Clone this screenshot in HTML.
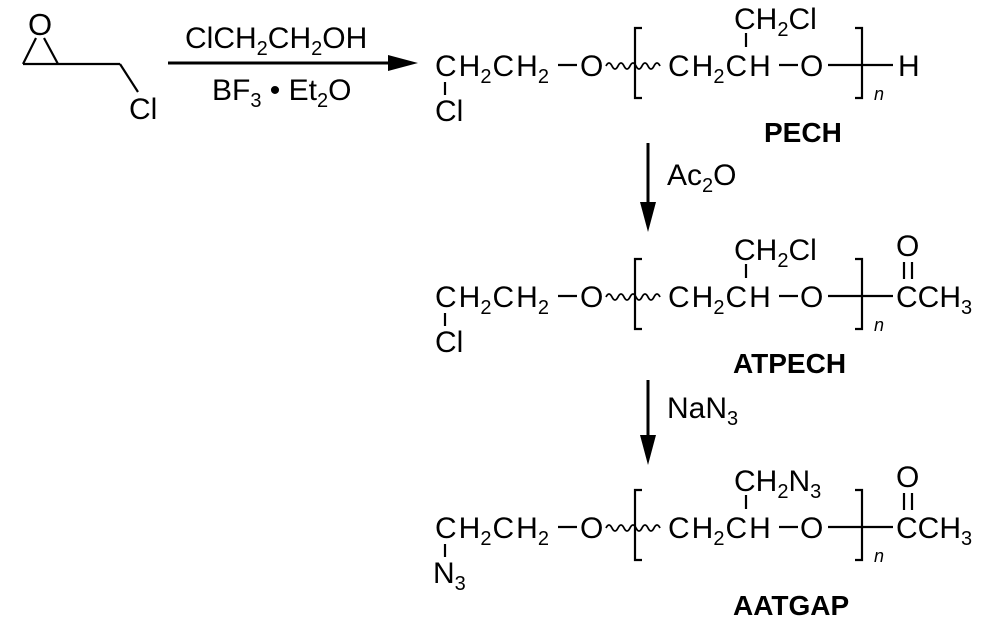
<!DOCTYPE html>
<html><head><meta charset="utf-8"><style>
html,body{margin:0;padding:0;background:#fff;}
svg{display:block;font-family:"Liberation Sans",Arial,sans-serif;}
</style></head><body>
<svg width="1000" height="634" viewBox="0 0 1000 634" xmlns="http://www.w3.org/2000/svg">
<defs>
<g id="core" stroke="#000" stroke-width="2.2" fill="none">
  <text x="435" y="76" font-size="30" fill="#000" stroke="none">C<tspan dx="2">H</tspan><tspan font-size="20" dy="7">2</tspan><tspan dy="-7" dx="1">C</tspan><tspan dx="2">H</tspan><tspan font-size="20" dy="7">2</tspan></text>
  <line x1="558" y1="65" x2="577" y2="65"/>
  <text x="580" y="76" font-size="30" fill="#000" stroke="none">O</text>
  <path d="M606 66 q3 -6 6 0 t6 0 t6 0 t6 0 t6 0 t6 0 t6 0 t6 0 t6 0" stroke-width="1.8"/>
  <path d="M642 28 H635 V98 H642"/>
  <text x="668" y="76" font-size="30" fill="#000" stroke="none">C<tspan dx="2">H</tspan><tspan font-size="20" dy="7">2</tspan><tspan dy="-7" dx="1">C</tspan><tspan dx="2">H</tspan></text>
  <line x1="779" y1="65" x2="798" y2="65"/>
  <text x="800" y="76" font-size="30" fill="#000" stroke="none">O</text>
  <line x1="828" y1="65" x2="893" y2="65"/>
  <path d="M855 28 H862 V98 H855"/>
  <text x="874" y="100" font-size="18" font-style="italic" fill="#000" stroke="none">n</text>
  <line x1="746" y1="33" x2="746" y2="47"/>
  <line x1="445" y1="82" x2="445" y2="95"/>
</g>
</defs>

<g stroke="#000" stroke-width="2.2" fill="none">
  <line x1="36" y1="38" x2="23" y2="64"/>
  <line x1="44" y1="38" x2="58" y2="64"/>
  <line x1="23" y1="64" x2="120" y2="64"/>
  <line x1="120" y1="64" x2="138" y2="92"/>
  <line x1="168" y1="63" x2="390" y2="63" stroke-width="3"/>
  <line x1="648" y1="143" x2="648" y2="205" stroke-width="3"/>
  <line x1="648" y1="380" x2="648" y2="438" stroke-width="3"/>
</g>
<polygon points="388,55 418,63 388,71" fill="#000"/>
<polygon points="640,202 656,202 648,232" fill="#000"/>
<polygon points="640,435 656,435 648,465" fill="#000"/>
<text x="28" y="35" font-size="31" fill="#000">O</text>
<text x="129" y="119" font-size="30" fill="#000">Cl</text>
<text x="185" y="48" font-size="30" fill="#000">ClCH<tspan font-size="20" dy="7">2</tspan><tspan dy="-7">CH</tspan><tspan font-size="20" dy="7">2</tspan><tspan dy="-7">OH</tspan></text>
<text x="212" y="100" font-size="30" fill="#000">BF<tspan font-size="20" dy="7">3</tspan><tspan dy="-7"> • Et</tspan><tspan font-size="20" dy="7">2</tspan><tspan dy="-7">O</tspan></text>
<text x="667" y="185" font-size="30" fill="#000">Ac<tspan font-size="20" dy="7">2</tspan><tspan dy="-7">O</tspan></text>
<text x="667" y="418" font-size="30" fill="#000">NaN<tspan font-size="20" dy="7">3</tspan></text>

<use href="#core"/>
<text x="734" y="29" font-size="30" fill="#000">CH<tspan font-size="20" dy="7">2</tspan><tspan dy="-7">Cl</tspan></text>
<text x="435" y="121" font-size="30" fill="#000">Cl</text>
<text x="898" y="76" font-size="30" fill="#000">H</text>
<text x="764" y="142" font-size="28" font-weight="bold" fill="#000">PECH</text>

<g transform="translate(0,231)">
<use href="#core"/>
<text x="734" y="29" font-size="30" fill="#000">CH<tspan font-size="20" dy="7">2</tspan><tspan dy="-7">Cl</tspan></text>
<text x="435" y="121" font-size="30" fill="#000">Cl</text>
<text x="896" y="76" font-size="30" fill="#000">CCH<tspan font-size="20" dy="7">3</tspan></text>
<text x="896" y="25" font-size="30" fill="#000">O</text>
<g stroke="#000" stroke-width="2.2"><line x1="904" y1="31" x2="904" y2="48"/><line x1="912" y1="31" x2="912" y2="48"/></g>
<text x="733" y="142" font-size="28" font-weight="bold" fill="#000">ATPECH</text>
</g>

<g transform="translate(0,462)">
<use href="#core"/>
<text x="734" y="29" font-size="30" fill="#000">CH<tspan font-size="20" dy="7">2</tspan><tspan dy="-7">N</tspan><tspan font-size="20" dy="7">3</tspan></text>
<text x="433" y="121" font-size="30" fill="#000">N<tspan font-size="20" dy="7">3</tspan></text>
<text x="896" y="76" font-size="30" fill="#000">CCH<tspan font-size="20" dy="7">3</tspan></text>
<text x="896" y="25" font-size="30" fill="#000">O</text>
<g stroke="#000" stroke-width="2.2"><line x1="904" y1="31" x2="904" y2="48"/><line x1="912" y1="31" x2="912" y2="48"/></g>
<text x="733" y="153" font-size="28" font-weight="bold" fill="#000">AATGAP</text>
</g>
</svg>
</body></html>
